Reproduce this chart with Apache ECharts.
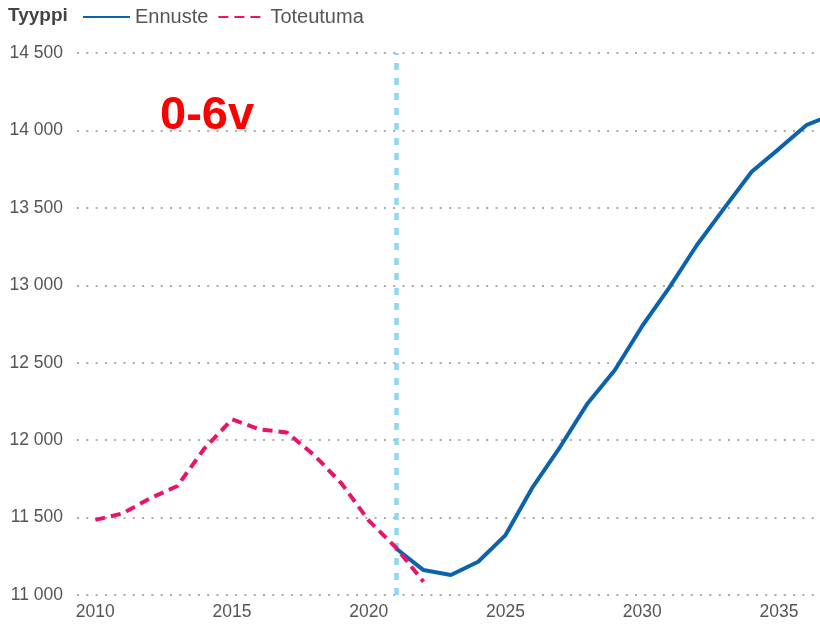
<!DOCTYPE html>
<html>
<head>
<meta charset="utf-8">
<style>
  html, body { margin: 0; padding: 0; background: #fff; }
  #chart { width: 820px; height: 627px; }
</style>
<script src="https://cdn.jsdelivr.net/npm/echarts@6/dist/echarts.min.js"></script>
</head>
<body>
<div id="chart"></div>
<script>
// toteutuma (actual) and ennuste (forecast), 0-6 year olds
const actualYears = [2010, 2011, 2012, 2013, 2014, 2015, 2016, 2017, 2018, 2019, 2020, 2021, 2022]
const actualValues = [11485, 11527, 11624, 11704, 11949, 12134, 12070, 12050, 11904, 11721, 11480, 11305, 11086]
const forecastYears = [2021, 2022, 2023, 2024, 2025, 2026, 2027, 2028, 2029, 2030, 2031, 2032, 2033, 2034, 2035, 2036, 2037]
const forecastValues = [11300, 11161, 11129, 11215, 11387, 11699, 11957, 12237, 12453, 12737, 12988, 13260, 13498, 13733, 13881, 14034, 14105]
const xTickYears = [2010, 2015, 2020, 2025, 2030, 2035]
const splitYear = 2021

const chart = echarts.init(document.getElementById('chart'))

const fmt = (v) => String(v).replace(/\B(?=(\d{3})+(?!\d))/g, ' ')

chart.setOption({
  animation: false,
  textStyle: { fontFamily: 'Arial, "Liberation Sans", sans-serif' },
  graphic: [
    {
      type: 'text',
      left: 8,
      top: 6,
      style: { text: 'Tyyppi', fontSize: 19, fontWeight: 'bold', fill: '#444', fontFamily: 'Arial, "Liberation Sans", sans-serif' }
    },
    {
      type: 'text',
      left: 160,
      top: 93,
      style: { text: '0-6v', fontSize: 47, fontWeight: 'bold', fill: '#ff0000', fontFamily: 'Arial, "Liberation Sans", sans-serif' }
    }
  ],
  legend: {
    left: 77,
    top: 2,
    itemWidth: 47,
    itemHeight: 14,
    itemGap: 9,
    textStyle: { fontSize: 20, color: '#555' },
    itemStyle: { opacity: 0 },
    data: ['Ennuste', 'Toteutuma']
  },
  grid: { left: 77, right: 0, top: 53, bottom: 32 },
  xAxis: {
    type: 'value',
    min: 2009.33,
    max: 2036.5,
    axisLine: { show: false },
    axisTick: { show: false },
    splitLine: { show: false },
    axisLabel: {
      customValues: xTickYears,
      fontSize: 17.5,
      color: '#555',
      margin: 8,
      formatter: (v) => String(v)
    }
  },
  yAxis: {
    type: 'value',
    min: 11000,
    max: 14500,
    interval: 500,
    axisLine: { show: false },
    axisTick: { show: false },
    axisLabel: { fontSize: 17.5, color: '#555', margin: 14, formatter: fmt },
    splitLine: { lineStyle: { color: '#aaa', type: [2, 7.3], width: 2 } }
  },
  series: [
    {
      name: 'Ennuste',
      type: 'line',
      symbol: 'none',
      color: '#0b63ad',
      lineStyle: { width: 4, color: '#0b63ad' },
      data: forecastYears.map((y, i) => [y, forecastValues[i]]),
      z: 3
    },
    {
      name: 'Toteutuma',
      type: 'line',
      symbol: 'none',
      color: '#e8146c',
      lineStyle: { width: 4, color: '#e8146c', type: [10, 6] },
      data: actualYears.map((y, i) => [y, actualValues[i]]),
      z: 4,
      markLine: {
        silent: true,
        symbol: 'none',
        label: { show: false },
        lineStyle: { color: '#90d8ee', width: 4.5, type: [7, 8] },
        data: [{ xAxis: splitYear }],
        z: 2
      }
    }
  ]
})
</script>
</body>
</html>
